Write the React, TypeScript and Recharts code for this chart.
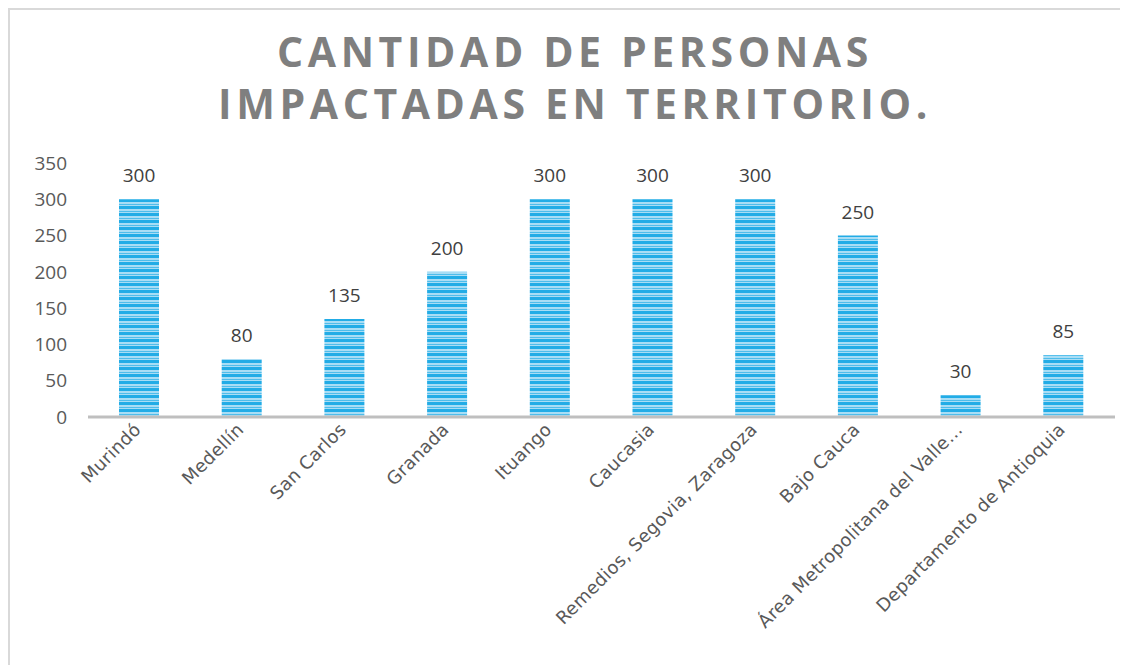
import React from 'react';
import { BarChart, Bar, XAxis, YAxis, LabelList } from 'recharts';

const categories = [
  'Murindó',
  'Medellín',
  'San Carlos',
  'Granada',
  'Ituango',
  'Caucasia',
  'Remedios, Segovia, Zaragoza',
  'Bajo Cauca',
  'Área Metropolitana del Valle…',
  'Departamento de Antioquia',
];
const personas = [300, 80, 135, 200, 300, 300, 300, 250, 30, 85];
const yTicks = [0, 50, 100, 150, 200, 250, 300, 350];

const data = categories.map((name, i) => ({ name, personas: personas[i] }));

const FONT = '"Open Sans", "DejaVu Sans", sans-serif';
const WIDE = '"DejaVu Sans", sans-serif';

// rotated category label, end anchored under the bar
const RotatedTick = (props: any) => {
  const { x, y, payload } = props;
  return (
    <g transform={`translate(${x - 3},${y})`}>
      <text
        x={0}
        y={0}
        dy={8}
        textAnchor="end"
        transform="rotate(-45)"
        fill="#595959"
        fontSize={18}
        letterSpacing={0.3}
        fontFamily={WIDE}
      >
        {payload.value}
      </text>
    </g>
  );
};

export default function App() {
  return (
    <div
      style={{
        position: 'relative',
        width: 1120,
        height: 657,
        borderLeft: '2px solid #d9d9d9',
        borderTop: '2px solid #d9d9d9',
        boxSizing: 'border-box',
        background: '#fff',
      }}
    >
      <div
        style={{
          position: 'absolute',
          left: 0,
          top: 15,
          width: 1130,
          textAlign: 'center',
          fontFamily: FONT,
          fontWeight: 700,
          fontSize: 41,
          lineHeight: '52px',
          letterSpacing: 4.6,
          color: '#7f7f7f',
        }}
      >
        CANTIDAD DE PERSONAS
        <br />
        IMPACTADAS EN TERRITORIO.
      </div>
      <BarChart
        width={1118}
        height={655}
        data={data}
        margin={{ top: 153, right: 13, left: 0, bottom: 8 }}
      >
        <defs>
          <pattern id="stripes" width="8" height="7" patternUnits="userSpaceOnUse">
            <rect width="8" height="7" fill="#a8ddf5" />
            <rect y="0" width="8" height="3" fill="#22ace6" />
            <rect y="5" width="8" height="1" fill="#4fbdeb" />
          </pattern>
        </defs>
        <YAxis
          domain={[0, 350]}
          ticks={yTicks}
          width={78}
          axisLine={false}
          tickLine={false}
          tickSize={0}
          tickMargin={21}
          tick={{ fill: '#595959', fontSize: 19, fontFamily: FONT }}
        />
        <XAxis
          dataKey="name"
          interval={0}
          height={240}
          axisLine={{ stroke: '#bfbfbf', strokeWidth: 3 }}
          tickLine={false}
          tick={<RotatedTick />}
        />
        <Bar
          dataKey="personas"
          fill="url(#stripes)"
          barSize={40}
          isAnimationActive={false}
        >
          <LabelList
            dataKey="personas"
            position="top"
            offset={17}
            fill="#404040"
            fontSize={19}
            fontFamily={FONT}
          />
        </Bar>
      </BarChart>
    </div>
  );
}
